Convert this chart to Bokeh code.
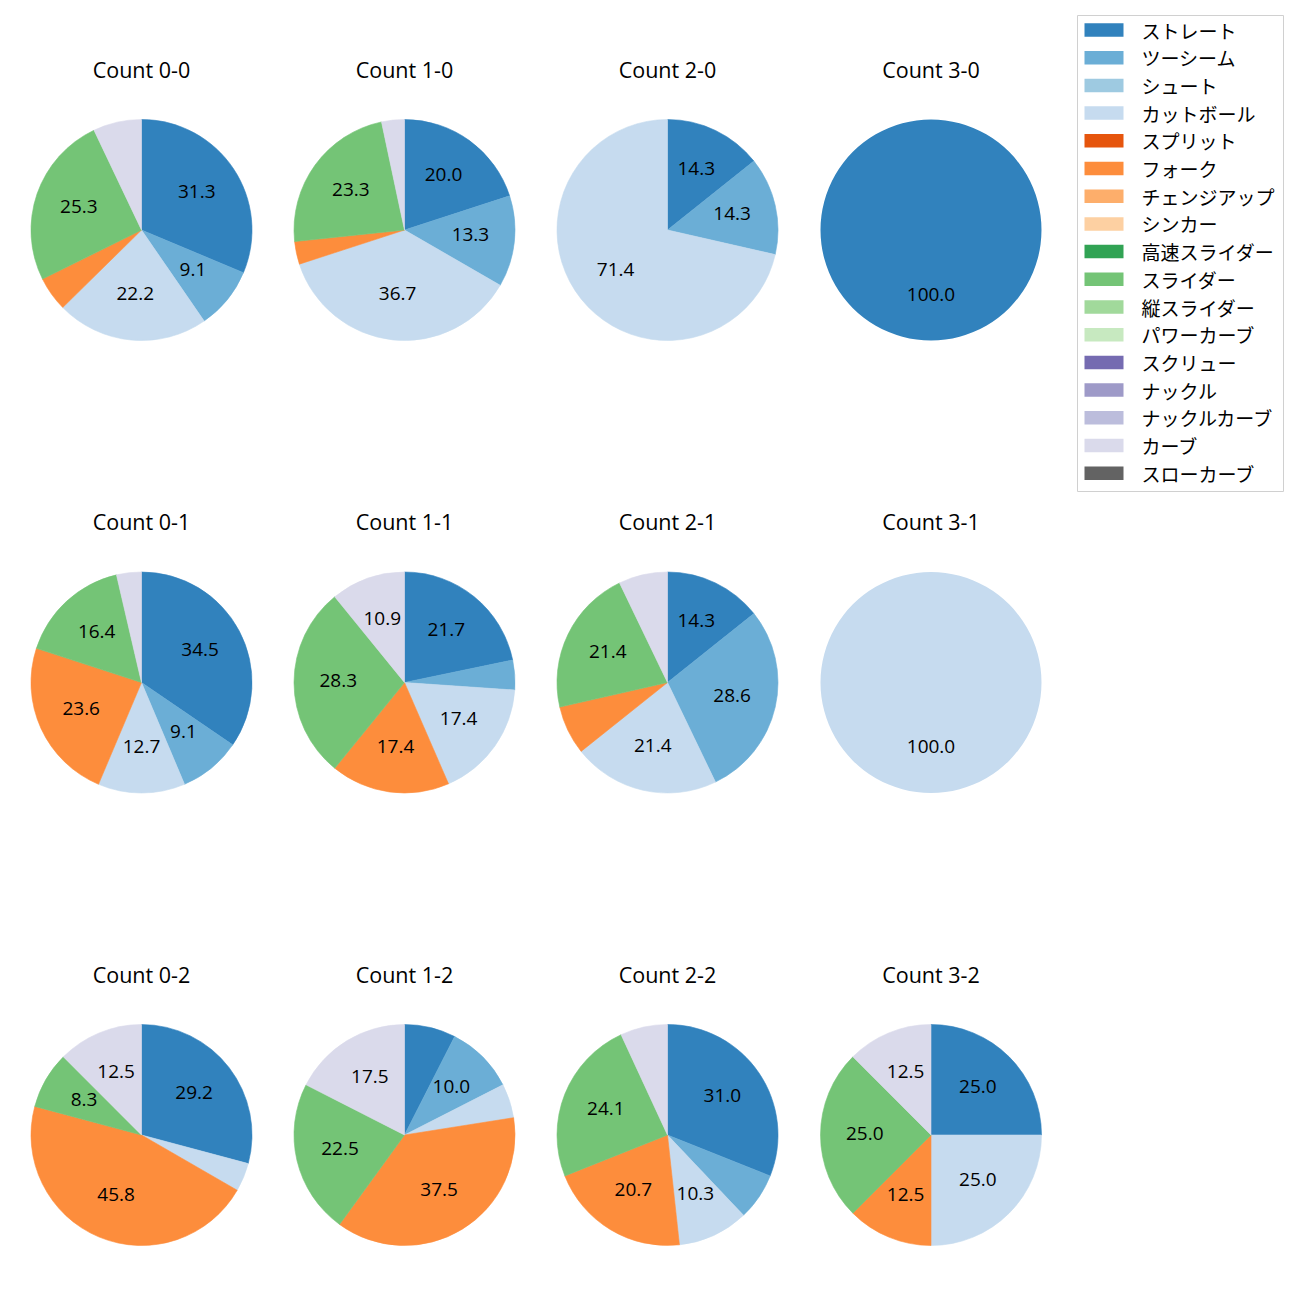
import numpy as np
from bokeh.plotting import figure
from bokeh.models import ColumnDataSource, Range1d
from bokeh.core.properties import value
from bokeh.embed import file_html
from bokeh.resources import INLINE

# ---- data ----
pitch_types = ["ストレート", "ツーシーム", "シュート", "カットボール", "スプリット", "フォーク",
               "チェンジアップ", "シンカー", "高速スライダー", "スライダー", "縦スライダー",
               "パワーカーブ", "スクリュー", "ナックル", "ナックルカーブ", "カーブ", "スローカーブ"]
colors = ["#3182bd", "#6baed6", "#9ecae1", "#c6dbef", "#e6550d", "#fd8d3c", "#fdae6b", "#fdd0a2",
          "#31a354", "#74c476", "#a1d99b", "#c7e9c0", "#756bb1", "#9e9ac8", "#bcbddc", "#dadaeb",
          "#636363"]

# pitch counts per ball-strike count, in pitch_types order
count_names = ["0-0", "1-0", "2-0", "3-0",
               "0-1", "1-1", "2-1", "3-1",
               "0-2", "1-2", "2-2", "3-2"]
count_0_0 = [31, 9, 0, 22, 0, 5, 0, 0, 0, 25, 0, 0, 0, 0, 0, 7, 0]
count_1_0 = [6, 4, 0, 11, 0, 1, 0, 0, 0, 7, 0, 0, 0, 0, 0, 1, 0]
count_2_0 = [1, 1, 0, 5, 0, 0, 0, 0, 0, 0, 0, 0, 0, 0, 0, 0, 0]
count_3_0 = [1, 0, 0, 0, 0, 0, 0, 0, 0, 0, 0, 0, 0, 0, 0, 0, 0]
count_0_1 = [19, 5, 0, 7, 0, 13, 0, 0, 0, 9, 0, 0, 0, 0, 0, 2, 0]
count_1_1 = [10, 2, 0, 8, 0, 8, 0, 0, 0, 13, 0, 0, 0, 0, 0, 5, 0]
count_2_1 = [2, 4, 0, 3, 0, 1, 0, 0, 0, 3, 0, 0, 0, 0, 0, 1, 0]
count_3_1 = [0, 0, 0, 1, 0, 0, 0, 0, 0, 0, 0, 0, 0, 0, 0, 0, 0]
count_0_2 = [7, 0, 0, 1, 0, 11, 0, 0, 0, 2, 0, 0, 0, 0, 0, 3, 0]
count_1_2 = [3, 4, 0, 2, 0, 15, 0, 0, 0, 9, 0, 0, 0, 0, 0, 7, 0]
count_2_2 = [9, 2, 0, 3, 0, 6, 0, 0, 0, 7, 0, 0, 0, 0, 0, 2, 0]
count_3_2 = [2, 0, 0, 2, 0, 1, 0, 0, 0, 2, 0, 0, 0, 0, 0, 1, 0]
all_counts = [count_0_0, count_1_0, count_2_0, count_3_0,
              count_0_1, count_1_1, count_2_1, count_3_1,
              count_0_2, count_1_2, count_2_2, count_3_2]

# ---- layout ----
W = H = 1300
LATIN = "Open Sans"
JP = "Noto Sans CJK JP"
col_x = [141, 404, 667, 930.5]
row_y = [229.5, 682, 1134.5]
R = 110.5
title_dy = 161
label_dy = 2

p = figure(width=W, height=H, output_backend="svg", toolbar_location=None,
           x_range=Range1d(0, W), y_range=Range1d(0, H), min_border=0)
p.axis.visible = False
p.grid.visible = False
p.outline_line_color = None
p.background_fill_color = "white"
p.border_fill_color = "white"

wx, wy, ws, we, wc, wa = [], [], [], [], [], []
lx, ly, lt = [], [], []
tx, ty, tt = [], [], []
for i, (name, vals) in enumerate(zip(count_names, all_counts)):
    cx = col_x[i % 4]
    cy = H - row_y[i // 4]
    v = np.array(vals, dtype=float)
    frac = v / v.sum()
    ends = np.cumsum(frac)
    starts = ends - frac
    for k in range(len(v)):
        if v[k] <= 0:
            continue
        a0 = np.pi / 2 - 2 * np.pi * ends[k]
        a1 = np.pi / 2 - 2 * np.pi * starts[k]
        full = frac[k] >= 0.9999
        if full:
            a0 += 1e-4
        wx.append(cx); wy.append(cy); ws.append(a0); we.append(a1); wc.append(colors[k])
        wa.append(0.0 if full else 1.0)
        pct = frac[k] * 100
        if pct > 7.6:
            mid = (a0 + a1) / 2
            lx.append(cx + 0.6 * R * np.cos(mid))
            ly.append(cy + 0.6 * R * np.sin(mid) + label_dy)
            lt.append(f"{pct:.1f}")
    tx.append(cx); ty.append(cy + title_dy); tt.append(f"Count {name}")

wsrc = ColumnDataSource(dict(x=wx, y=wy, s=ws, e=we, c=wc, a=wa))
p.wedge(x="x", y="y", radius=R, start_angle="s", end_angle="e", source=wsrc,
        fill_color="c", line_color="c", line_alpha="a", line_width=0.6)

p.text(x=lx, y=ly, text=lt, text_align="center", text_baseline="middle",
       text_font=value(LATIN), text_font_size="19px", text_color="black")
p.text(x=tx, y=ty, text=tt, text_align="center", text_baseline="middle",
       text_font=value(LATIN), text_font_size="21.5px", text_color="black")

# ---- legend ----
p.quad(left=[1077], right=[1283], top=[H - 15], bottom=[H - 491],
       fill_color="white", line_color="#d0d0d0", line_width=1)
leg_y = [H - (29.5 + 27.7 * i) for i in range(len(pitch_types))]
p.rect(x=[1103.5] * len(pitch_types), y=leg_y, width=39, height=13.5,
       fill_color=colors, line_color=None)
p.text(x=[1141] * len(pitch_types), y=leg_y, text=pitch_types, text_align="left",
       text_baseline="middle", text_font=value(JP), text_font_size="19px",
       text_color="black")

open("out.html", "w").write(file_html(p, INLINE))
